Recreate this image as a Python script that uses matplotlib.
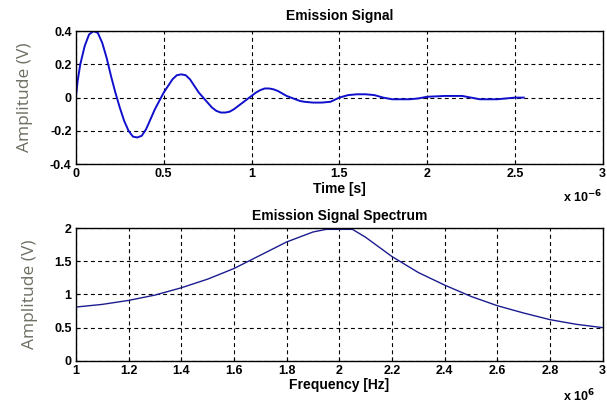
import numpy as np
import matplotlib.pyplot as plt

plt.rcParams['font.family'] = ['Liberation Sans', 'DejaVu Sans']

# emission signal, time in units of 1e-6 s
t_us = [0, 0.01, 0.025, 0.05, 0.075, 0.1, 0.125, 0.15, 0.175, 0.2, 0.225, 0.25, 0.275, 0.3,
        0.325, 0.35, 0.375, 0.4, 0.425, 0.45, 0.475, 0.5, 0.525, 0.55, 0.575, 0.6, 0.625,
        0.65, 0.675, 0.7, 0.725, 0.75, 0.775, 0.8, 0.825, 0.85, 0.875, 0.9, 0.925, 0.95,
        0.975, 1.0, 1.025, 1.05, 1.075, 1.1, 1.125, 1.15, 1.175, 1.2, 1.225, 1.25, 1.275,
        1.3, 1.35, 1.4, 1.45, 1.5, 1.55, 1.6, 1.65, 1.7, 1.75, 1.8, 1.9, 1.95, 2.0, 2.1,
        2.2, 2.25, 2.3, 2.4, 2.45, 2.5, 2.55]
amp_t = [0, 0.1, 0.2, 0.31, 0.38, 0.40, 0.39, 0.33, 0.24, 0.13, 0.03, -0.06, -0.14, -0.20,
         -0.235, -0.24, -0.23, -0.19, -0.13, -0.07, -0.02, 0.03, 0.07, 0.11, 0.135, 0.14,
         0.135, 0.11, 0.07, 0.03, 0.0, -0.03, -0.06, -0.08, -0.09, -0.09, -0.085, -0.07,
         -0.05, -0.03, -0.01, 0.01, 0.03, 0.045, 0.055, 0.055, 0.05, 0.04, 0.025, 0.01, 0.0,
         -0.01, -0.02, -0.025, -0.03, -0.03, -0.025, 0.0, 0.015, 0.02, 0.02, 0.015, 0.0,
         -0.01, -0.01, -0.005, 0.005, 0.01, 0.01, 0.0, -0.01, -0.01, -0.005, 0.0, 0.0]

# spectrum, frequency in units of 1e6 Hz
f_mhz = [1.0, 1.1, 1.2, 1.3, 1.4, 1.5, 1.6, 1.7, 1.8, 1.9, 1.95, 2.0, 2.05, 2.1, 2.2, 2.3,
         2.4, 2.5, 2.6, 2.7, 2.8, 2.9, 3.0]
amp_f = [0.81, 0.85, 0.91, 0.99, 1.10, 1.23, 1.39, 1.59, 1.79, 1.94, 1.98, 1.98, 1.98, 1.86,
         1.57, 1.33, 1.14, 0.97, 0.83, 0.72, 0.62, 0.55, 0.50]

fig = plt.figure(figsize=(6.07, 4.05), dpi=100)
ax1 = fig.add_axes([0.125, 0.595, 0.868, 0.328])
ax2 = fig.add_axes([0.125, 0.109, 0.868, 0.328])

tick_kw = dict(fontsize=9, fontweight='bold')
lab_kw = dict(fontsize=10, fontweight='bold')
mult_kw = dict(fontsize=9, fontweight='bold')

ax1.plot(t_us, amp_t, color='#1010cc', lw=1.4)
ax1.set_xlim(0, 3)
ax1.set_ylim(-0.4, 0.4)
ax1.set_xticks([0, 0.5, 1, 1.5, 2, 2.5, 3])
ax1.set_xticklabels(['0', '0.5', '1', '1.5', '2', '2.5', '3'], **tick_kw)
ax1.set_yticks([-0.4, -0.2, 0, 0.2, 0.4])
ax1.set_yticklabels(['-0.4', '-0.2', '0', '0.2', '0.4'], **tick_kw)
ax1.set_title('Emission Signal', pad=8, **lab_kw)
ax1.set_xlabel('Time [s]', labelpad=1, **lab_kw)
fig.text(0.928, 0.5, r'x 10$^{\mathbf{-6}}$', ha='left', **mult_kw)

ax2.plot(f_mhz, amp_f, color='#1c1c90', lw=1.0)
ax2.set_xlim(1, 3)
ax2.set_ylim(0, 2)
ax2.set_xticks([1, 1.2, 1.4, 1.6, 1.8, 2, 2.2, 2.4, 2.6, 2.8, 3])
ax2.set_xticklabels(['1', '1.2', '1.4', '1.6', '1.8', '2', '2.2', '2.4', '2.6', '2.8', '3'], **tick_kw)
ax2.set_yticks([0, 0.5, 1, 1.5, 2])
ax2.set_yticklabels(['0', '0.5', '1', '1.5', '2'], **tick_kw)
ax2.set_title('Emission Signal Spectrum', pad=6, **lab_kw)
ax2.set_xlabel('Frequency [Hz]', labelpad=1, **lab_kw)
fig.text(0.928, 0.01, r'x 10$^{\mathbf{6}}$', ha='left', **mult_kw)

for ax in (ax1, ax2):
    ax.grid(True, color='black', linestyle=(0, (3.5, 3)), lw=0.8)
    ax.tick_params(direction='in', length=3, pad=3)
    ax.set_ylabel('Amplitude (V)', fontsize=12.5, color='#6e6e62', labelpad=12,
                  family=['Open Sans', 'DejaVu Sans'])
    for s in ax.spines.values():
        s.set_linewidth(1.0)

fig.savefig('out.png', dpi=100)
